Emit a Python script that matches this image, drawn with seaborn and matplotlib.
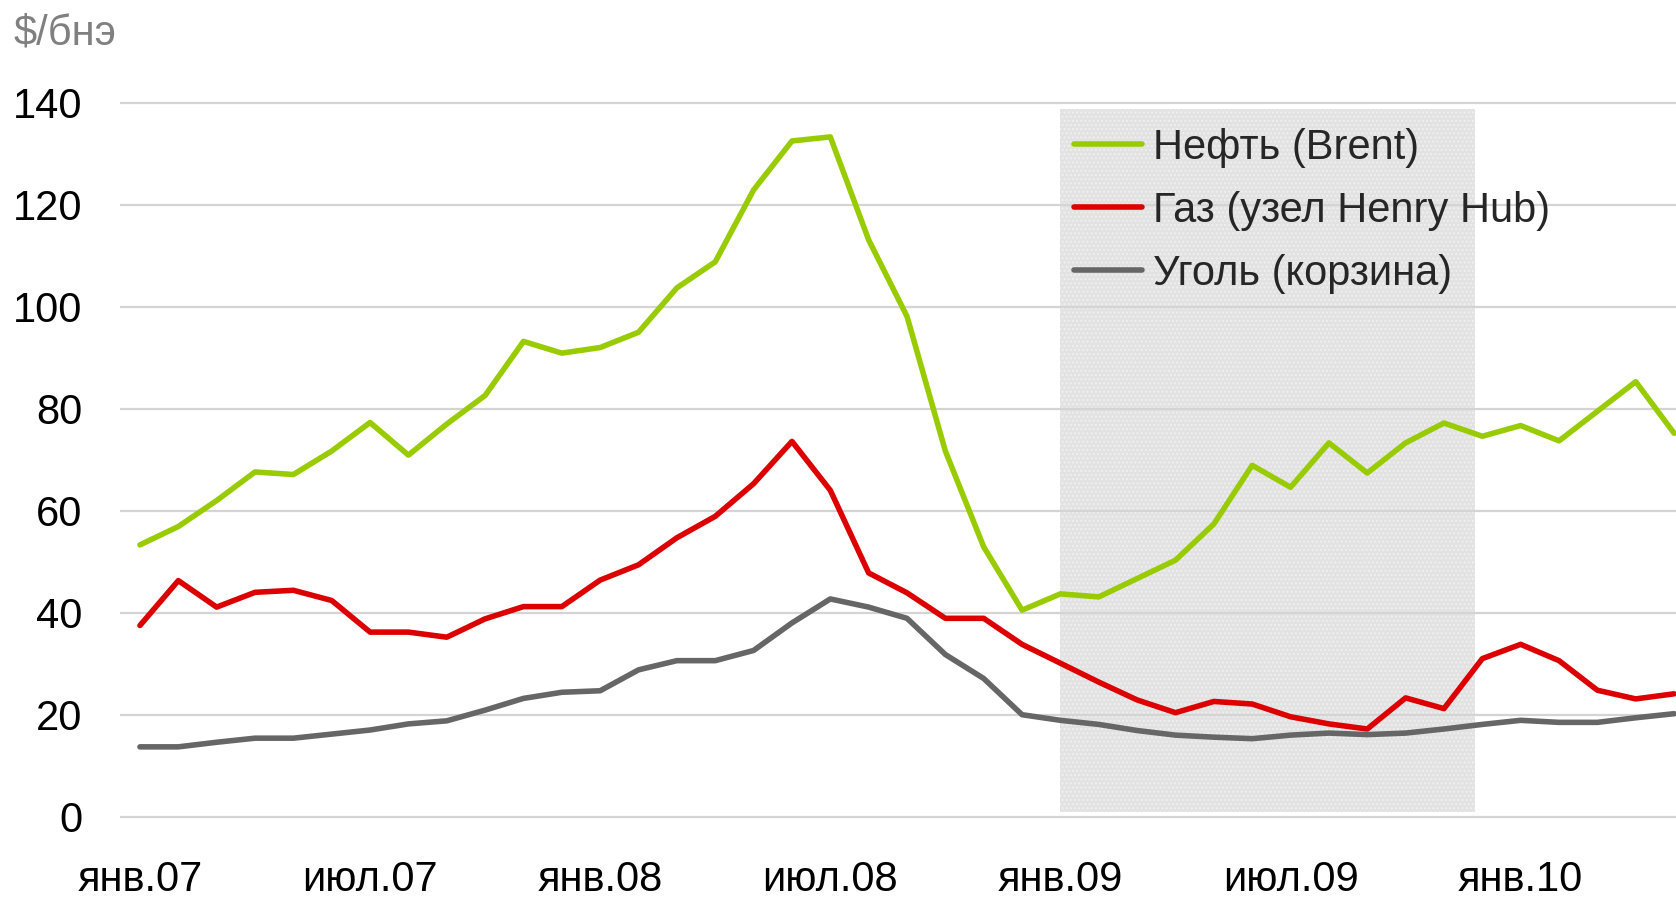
import seaborn as sns
import pandas as pd
import matplotlib.pyplot as plt
import numpy as np

# помесячные цены, янв.2007 - май 2010, $/бнэ
oil = [53.3, 56.9, 62.0, 67.6, 67.1, 71.7, 77.3, 70.9, 77.0, 82.6,
       93.2, 90.9, 92.0, 95.0, 103.7, 108.8, 122.9, 132.5, 133.3, 113.1,
       98.1, 71.7, 52.9, 40.5, 43.7, 43.1, 46.7, 50.3, 57.4, 68.9,
       64.6, 73.3, 67.4, 73.3, 77.2, 74.6, 76.7, 73.7, 79.5, 85.3, 75.2]
gas = [37.5, 46.3, 41.1, 44.0, 44.4, 42.4, 36.2, 36.2, 35.2, 38.8,
       41.2, 41.2, 46.4, 49.4, 54.7, 58.9, 65.3, 73.6, 64.0, 47.8,
       43.9, 38.9, 38.9, 33.8, 30.1, 26.4, 22.9, 20.4, 22.6, 22.1,
       19.6, 18.2, 17.2, 23.3, 21.2, 31.0, 33.8, 30.6, 24.8, 23.1, 24.1]
coal = [13.7, 13.7, 14.6, 15.4, 15.4, 16.2, 17.0, 18.2, 18.8, 20.9,
        23.2, 24.4, 24.7, 28.8, 30.6, 30.6, 32.6, 38.0, 42.7, 41.1,
        38.9, 31.8, 27.1, 20.0, 18.9, 18.1, 16.9, 16.0, 15.6, 15.3,
        16.0, 16.4, 16.1, 16.4, 17.2, 18.1, 18.9, 18.5, 18.5, 19.4, 20.2]

series_names = ['Нефть (Brent)', 'Газ (узел Henry Hub)', 'Уголь (корзина)']
series_colors = ['#99cc00', '#dd0000', '#666666']

tick_labels = ['янв.07', 'июл.07', 'янв.08', 'июл.08', 'янв.09', 'июл.09', 'янв.10']
tick_step = 6

# затенённый период (2009 г.)
shade_start, shade_end = 24, 34.8
shade_low, shade_high = 1, 138.8

months = np.arange(len(oil))
df = pd.concat([
    pd.DataFrame({'month': months, 'price': vals, 'series': name})
    for name, vals in zip(series_names, [oil, gas, coal])
])

sns.set_style('white')
plt.rcParams['font.family'] = ['Liberation Sans', 'DejaVu Sans']

fig = plt.figure(figsize=(16.76, 9), dpi=100)
ax = fig.add_axes([0.0716, 0.0897, 0.9284, 0.799])

ax.fill_between([shade_start, shade_end], shade_low, shade_high,
                color='#e2e2e2', hatch='....', edgecolor='#f0f0f0',
                linewidth=0, zorder=0.5)

sns.lineplot(data=df, x='month', y='price', hue='series',
             palette=dict(zip(series_names, series_colors)),
             linewidth=4.0, ax=ax, zorder=3)

ax.set_xlim(-0.52, 40.05)
ax.set_ylim(-0.5, 140.5)
ax.set_yticks(range(0, 141, 20))
ax.set_xticks(range(0, len(oil), tick_step)[:len(tick_labels)])
ax.set_xticklabels(tick_labels)
ax.yaxis.grid(True, color='#d4d4d4', linewidth=1.6, zorder=0)
ax.set_axisbelow(True)
ax.tick_params(axis='both', length=0, labelsize=30, colors='black')
ax.tick_params(axis='y', pad=27)
ax.tick_params(axis='x', pad=29)
ax.set_xlabel('')
ax.set_ylabel('')
sns.despine(ax=ax, left=True, bottom=True)

leg = ax.legend(loc='upper left', bbox_to_anchor=(0.641, 0.858),
                bbox_transform=fig.transFigure, frameon=False, fontsize=30,
                handlelength=1.63, handletextpad=0.25, labelspacing=0.55,
                borderpad=0, borderaxespad=0)
for line in leg.get_lines():
    line.set_linewidth(4.0)

fig.text(0.008, 0.963, '$/бнэ', fontsize=30, color='#808080', va='center')

plt.savefig('out.png', dpi=100)
